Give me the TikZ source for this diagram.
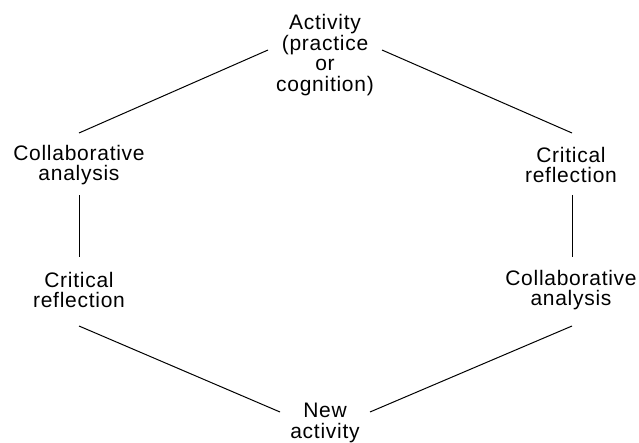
\documentclass[tikz,border=0pt]{standalone}
\usepackage{fontspec}
\setmainfont{Liberation Sans}[LetterSpace=3.5]
\begin{document}
\begin{tikzpicture}[x=1pt,y=-1pt,
  lbl/.style={align=center, inner sep=0pt, font=\fontsize{21}{20.5}\selectfont},
  link/.style={draw=black, line width=1pt}]
\useasboundingbox (0,0) rectangle (639,443);

% stages of the cycle
\node[lbl] (act)  at (325,55)  {Activity\\(practice\\or\\cognition)};
\node[lbl] (cal)  at (79,165)  {Collaborative\\analysis};
\node[lbl] (crl)  at (79,290)  {Critical\\reflection};
\node[lbl] (crr)  at (571,165) {Critical\\reflection};
\node[lbl] (car)  at (571,290) {Collaborative\\analysis};
\node[lbl] (new)  at (325,423) {New\\activity};

% end points of the connecting strokes
\coordinate (actL) at (268,50);
\coordinate (actR) at (382,50);
\coordinate (calT) at (79,133);
\coordinate (calB) at (79,195);
\coordinate (crlT) at (79,257);
\coordinate (crlB) at (79,326);
\coordinate (crrT) at (572,133);
\coordinate (crrB) at (572,195);
\coordinate (carT) at (572,257);
\coordinate (carB) at (572,326);
\coordinate (newL) at (280,412);
\coordinate (newR) at (370,412);

% the cycle
\draw[link] (calT) -- (actL);
\draw[link] (actR) -- (crrT);
\draw[link] (crrB) -- (carT);
\draw[link] (carB) -- (newR);
\draw[link] (newL) -- (crlB);
\draw[link] (crlT) -- (calB);
\end{tikzpicture}
\end{document}
